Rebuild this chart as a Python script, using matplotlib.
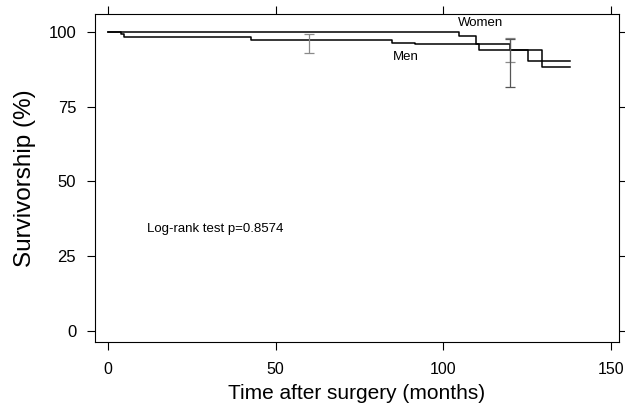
import matplotlib
matplotlib.use("Agg")
from matplotlib import pyplot as plt

# Kaplan-Meier steps
men_time = [0, 3.9, 4.8, 42.8, 84.7, 91.5, 110.5, 129.5, 137.8]
men_surv = [100, 99.3, 98.1, 97.4, 96.4, 95.9, 93.9, 88.1, 88.1]
women_time = [0, 104.8, 109.9, 120, 125.3, 137.8]
women_surv = [100, 98.6, 95.9, 93.9, 90.4, 90.4]

# confidence bars (time, low, high)
ci_time = [60, 120, 120]
ci_low = [92.9, 90.0, 81.4]
ci_high = [99.2, 97.9, 97.6]
ci_color = ["#8a8a8a", "#8a8a8a", "#555555"]

x_ticks = [0, 50, 100, 150]
y_ticks = [0, 25, 50, 75, 100]

plt.rcParams["font.family"] = ["Liberation Sans", "DejaVu Sans"]

fig = plt.figure(figsize=(6.25, 4.08), dpi=100)
ax = fig.add_axes([0.152, 0.162, 0.838, 0.804])

ax.plot(men_time, men_surv, drawstyle="steps-post", color="black", lw=1.1)
ax.plot(women_time, women_surv, drawstyle="steps-post", color="black", lw=1.1)

for t, lo, hi, c in zip(ci_time, ci_low, ci_high, ci_color):
    mid = (lo + hi) / 2
    ax.errorbar(t, mid, yerr=[[mid - lo], [hi - mid]], color=c, lw=0.9,
                capsize=3.5, capthick=0.9, fmt="none")

ax.text(111, 103, "Women", ha="center", va="center", fontsize=9.5)
ax.text(88.8, 91.6, "Men", ha="center", va="center", fontsize=9.5)
ax.text(11.6, 34.1, "Log-rank test p=0.8574", ha="left", va="center", fontsize=9.5)

ax.set_xlim(-3.8, 152.3)
ax.set_ylim(-3.7, 106)
ax.set_xticks(x_ticks)
ax.set_yticks(y_ticks)
ax.tick_params(direction="out", length=5.5, width=0.8, labelsize=12,
               top=True, right=True)
ax.tick_params(axis="x", pad=9, labelsize=11.5)
ax.tick_params(axis="y", pad=8)
for s in ax.spines.values():
    s.set_linewidth(0.8)

ax.set_xlabel("Time after surgery (months)", fontsize=15, labelpad=5)
ax.set_ylabel("Survivorship (%)", fontsize=17.5, labelpad=9)

fig.savefig("out.png", dpi=100)
